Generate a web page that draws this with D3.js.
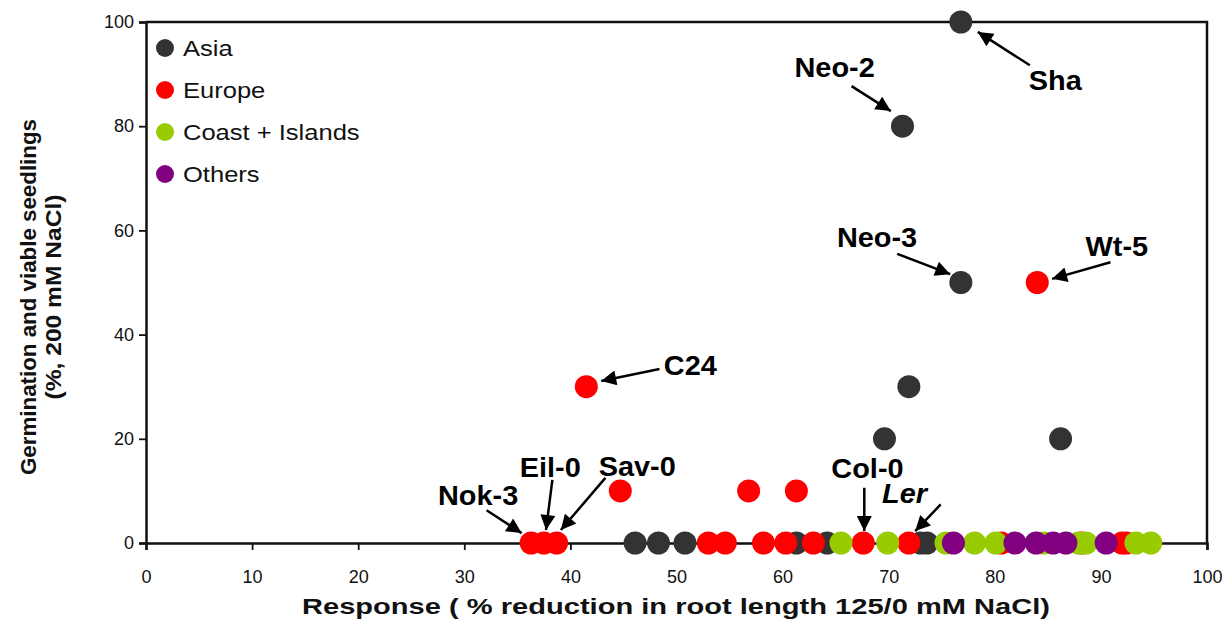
<!DOCTYPE html>
<html>
<head>
<meta charset="utf-8">
<script src="https://cdn.jsdelivr.net/npm/d3@7"></script>
<style>
  body { margin: 0; background: #fff; }
  svg { font-family: "Liberation Sans", Arial, sans-serif; }
</style>
</head>
<body>
<svg id="chart" width="1231" height="624"></svg>
<script>
// regions, in drawing order
const regions = ['Asia', 'Europe', 'Coast + Islands', 'Others'];
const colors = ['#333333', '#ff0000', '#99cc00', '#800080'];

// response (% reduction in root length) and germination (%) per accession
const asiaX = [76.8, 71.3, 76.8, 71.9, 69.6, 86.2, 46.1, 48.3, 50.8, 61.3, 64.2, 73.0, 73.6];
const asiaY = [100, 80, 50, 30, 20, 20, 0, 0, 0, 0, 0, 0, 0];

const europeX = [84.0, 41.5, 44.7, 56.8, 61.3, 36.3, 37.5, 38.7, 53.0, 54.6, 58.2, 60.3, 62.9, 67.6, 71.9, 80.6, 88.2, 92.0, 92.4];
const europeY = [50, 30, 10, 10, 10, 0, 0, 0, 0, 0, 0, 0, 0, 0, 0, 0, 0, 0, 0];

const coastX = [65.5, 69.9, 75.4, 78.1, 80.1, 84.6, 87.9, 88.6, 93.3, 94.7];
const coastY = [0, 0, 0, 0, 0, 0, 0, 0, 0, 0];

const othersX = [76.1, 81.9, 83.9, 85.5, 86.7, 90.5];
const othersY = [0, 0, 0, 0, 0, 0];

const xTicks = [0, 10, 20, 30, 40, 50, 60, 70, 80, 90, 100];
const yTicks = [0, 20, 40, 60, 80, 100];

// labelled accessions: label position, arrow tail, arrow head (data units)
const labels = [
  { name: 'Sha',   tx: 85.7, ty: 88.9, ax: 83.3, ay: 91.7, hx: 78.4, hy: 98.1 },
  { name: 'Neo-2', tx: 64.9, ty: 91.4, ax: 66.5, ay: 87.7, hx: 70.2, hy: 82.9 },
  { name: 'Neo-3', tx: 68.9, ty: 58.7, ax: 70.8, ay: 55.5, hx: 75.8, hy: 51.6 },
  { name: 'Wt-5',  tx: 91.5, ty: 57.0, ax: 90.9, ay: 53.9, hx: 85.4, hy: 50.7 },
  { name: 'C24',   tx: 51.3, ty: 34.2, ax: 48.4, ay: 33.4, hx: 42.9, hy: 31.1 },
  { name: 'Nok-3', tx: 31.3, ty: 9.2,  ax: 32.1, ay: 6.3,  hx: 35.4, hy: 1.9 },
  { name: 'Eil-0', tx: 38.1, ty: 14.6, ax: 38.3, ay: 12.1, hx: 37.7, hy: 2.5 },
  { name: 'Sav-0', tx: 46.3, ty: 14.8, ax: 43.3, ay: 12.5, hx: 39.1, hy: 2.5 },
  { name: 'Col-0', tx: 68.0, ty: 14.3, ax: 67.7, ay: 10.6, hx: 67.7, hy: 2.3 },
  { name: 'Ler',   tx: 71.5, ty: 9.6,  ax: 74.9, ay: 7.4,  hx: 72.5, hy: 2.3, italic: true }
];

const seriesX = [asiaX, europeX, coastX, othersX];
const seriesY = [asiaY, europeY, coastY, othersY];

const svg = d3.select('#chart');
const plotLeft = 146, plotRight = 1207, plotTop = 22, plotBottom = 543;

const x = d3.scaleLinear().domain([0, 100]).range([plotLeft, plotRight]);
const y = d3.scaleLinear().domain([0, 100]).range([plotBottom, plotTop]);

// the original's text is a little wider than Liberation Sans
function stretch(sel, k) {
  sel.each(function () {
    const w = this.getComputedTextLength();
    d3.select(this).attr('textLength', w * k).attr('lengthAdjust', 'spacingAndGlyphs');
  });
}

// frame (top and right)
svg.append('path')
  .attr('d', `M${plotLeft},${plotTop}H${plotRight}V${plotBottom}`)
  .attr('fill', 'none')
  .attr('stroke', '#111')
  .attr('stroke-width', 2.5);

// x axis
const gx = svg.append('g')
  .attr('transform', `translate(0,${plotBottom})`)
  .call(d3.axisBottom(x).tickValues(xTicks).tickSize(7).tickPadding(20).tickFormat(d3.format('d')));
gx.select('.domain').attr('stroke', '#111').attr('stroke-width', 2.5);
gx.selectAll('.tick line').attr('stroke', '#111').attr('stroke-width', 1.8);
gx.selectAll('text').attr('font-size', 18).attr('fill', '#111')
  .attr('font-family', '"Liberation Sans", Arial, sans-serif');

// y axis
const gy = svg.append('g')
  .attr('transform', `translate(${plotLeft},0)`)
  .call(d3.axisLeft(y).tickValues(yTicks).tickSize(7).tickPadding(5).tickFormat(d3.format('d')));
gy.select('.domain').attr('stroke', '#111').attr('stroke-width', 2.5);
gy.selectAll('.tick line').attr('stroke', '#111').attr('stroke-width', 1.8);
gy.selectAll('text').attr('font-size', 18).attr('fill', '#111')
  .attr('font-family', '"Liberation Sans", Arial, sans-serif');

// axis titles
svg.append('text')
  .attr('x', 676)
  .attr('y', 614)
  .attr('text-anchor', 'middle')
  .attr('font-size', 22)
  .attr('font-weight', 'bold')
  .attr('fill', '#111')
  .attr('textLength', 748)
  .attr('lengthAdjust', 'spacingAndGlyphs')
  .text('Response ( % reduction in root length 125/0 mM NaCl)');

const yTitle = svg.append('g')
  .attr('transform', 'translate(0,297) rotate(-90)');
yTitle.append('text')
  .attr('y', 36)
  .attr('text-anchor', 'middle')
  .attr('font-size', 22)
  .attr('font-weight', 'bold')
  .attr('fill', '#111')
  .attr('textLength', 356)
  .attr('lengthAdjust', 'spacingAndGlyphs')
  .text('Germination and viable seedlings');
yTitle.append('text')
  .attr('y', 61)
  .attr('text-anchor', 'middle')
  .attr('font-size', 22)
  .attr('font-weight', 'bold')
  .attr('fill', '#111')
  .attr('textLength', 205)
  .attr('lengthAdjust', 'spacingAndGlyphs')
  .text('(%, 200 mM NaCl)');

// points
regions.forEach((r, i) => {
  const pts = seriesX[i].map((v, j) => ({ x: v, y: seriesY[i][j] }));
  svg.append('g')
    .selectAll('circle')
    .data(pts)
    .enter()
    .append('circle')
    .attr('cx', d => x(d.x))
    .attr('cy', d => y(d.y))
    .attr('r', 11.5)
    .attr('fill', colors[i]);
});

// legend
const legend = svg.append('g').attr('transform', 'translate(165,48)');
regions.forEach((r, i) => {
  const row = legend.append('g').attr('transform', `translate(0,${i * 42})`);
  row.append('circle').attr('r', 9).attr('fill', colors[i]);
  row.append('text')
    .attr('x', 18)
    .attr('dy', '0.36em')
    .attr('font-size', 22)
    .attr('fill', '#111')
    .text(r)
    .call(stretch, 1.16);
});

// arrows
svg.append('defs').append('marker')
  .attr('id', 'arrow')
  .attr('viewBox', '0 0 10 10')
  .attr('refX', 10)
  .attr('refY', 5)
  .attr('markerUnits', 'userSpaceOnUse')
  .attr('markerWidth', 19)
  .attr('markerHeight', 15)
  .attr('orient', 'auto')
  .append('path')
  .attr('d', 'M0,0L10,5L0,10z')
  .attr('fill', '#000');

const notes = svg.append('g');
notes.selectAll('line')
  .data(labels)
  .enter()
  .append('line')
  .attr('x1', d => x(d.ax))
  .attr('y1', d => y(d.ay))
  .attr('x2', d => x(d.hx))
  .attr('y2', d => y(d.hy))
  .attr('stroke', '#000')
  .attr('stroke-width', 2.5)
  .attr('marker-end', 'url(#arrow)');

notes.selectAll('text')
  .data(labels)
  .enter()
  .append('text')
  .attr('x', d => x(d.tx))
  .attr('y', d => y(d.ty))
  .attr('dy', '0.36em')
  .attr('text-anchor', 'middle')
  .attr('font-size', 27)
  .attr('font-weight', 'bold')
  .attr('font-style', d => d.italic ? 'italic' : 'normal')
  .attr('fill', '#000')
  .text(d => d.name)
  .call(stretch, 1.07);
</script>
</body>
</html>
